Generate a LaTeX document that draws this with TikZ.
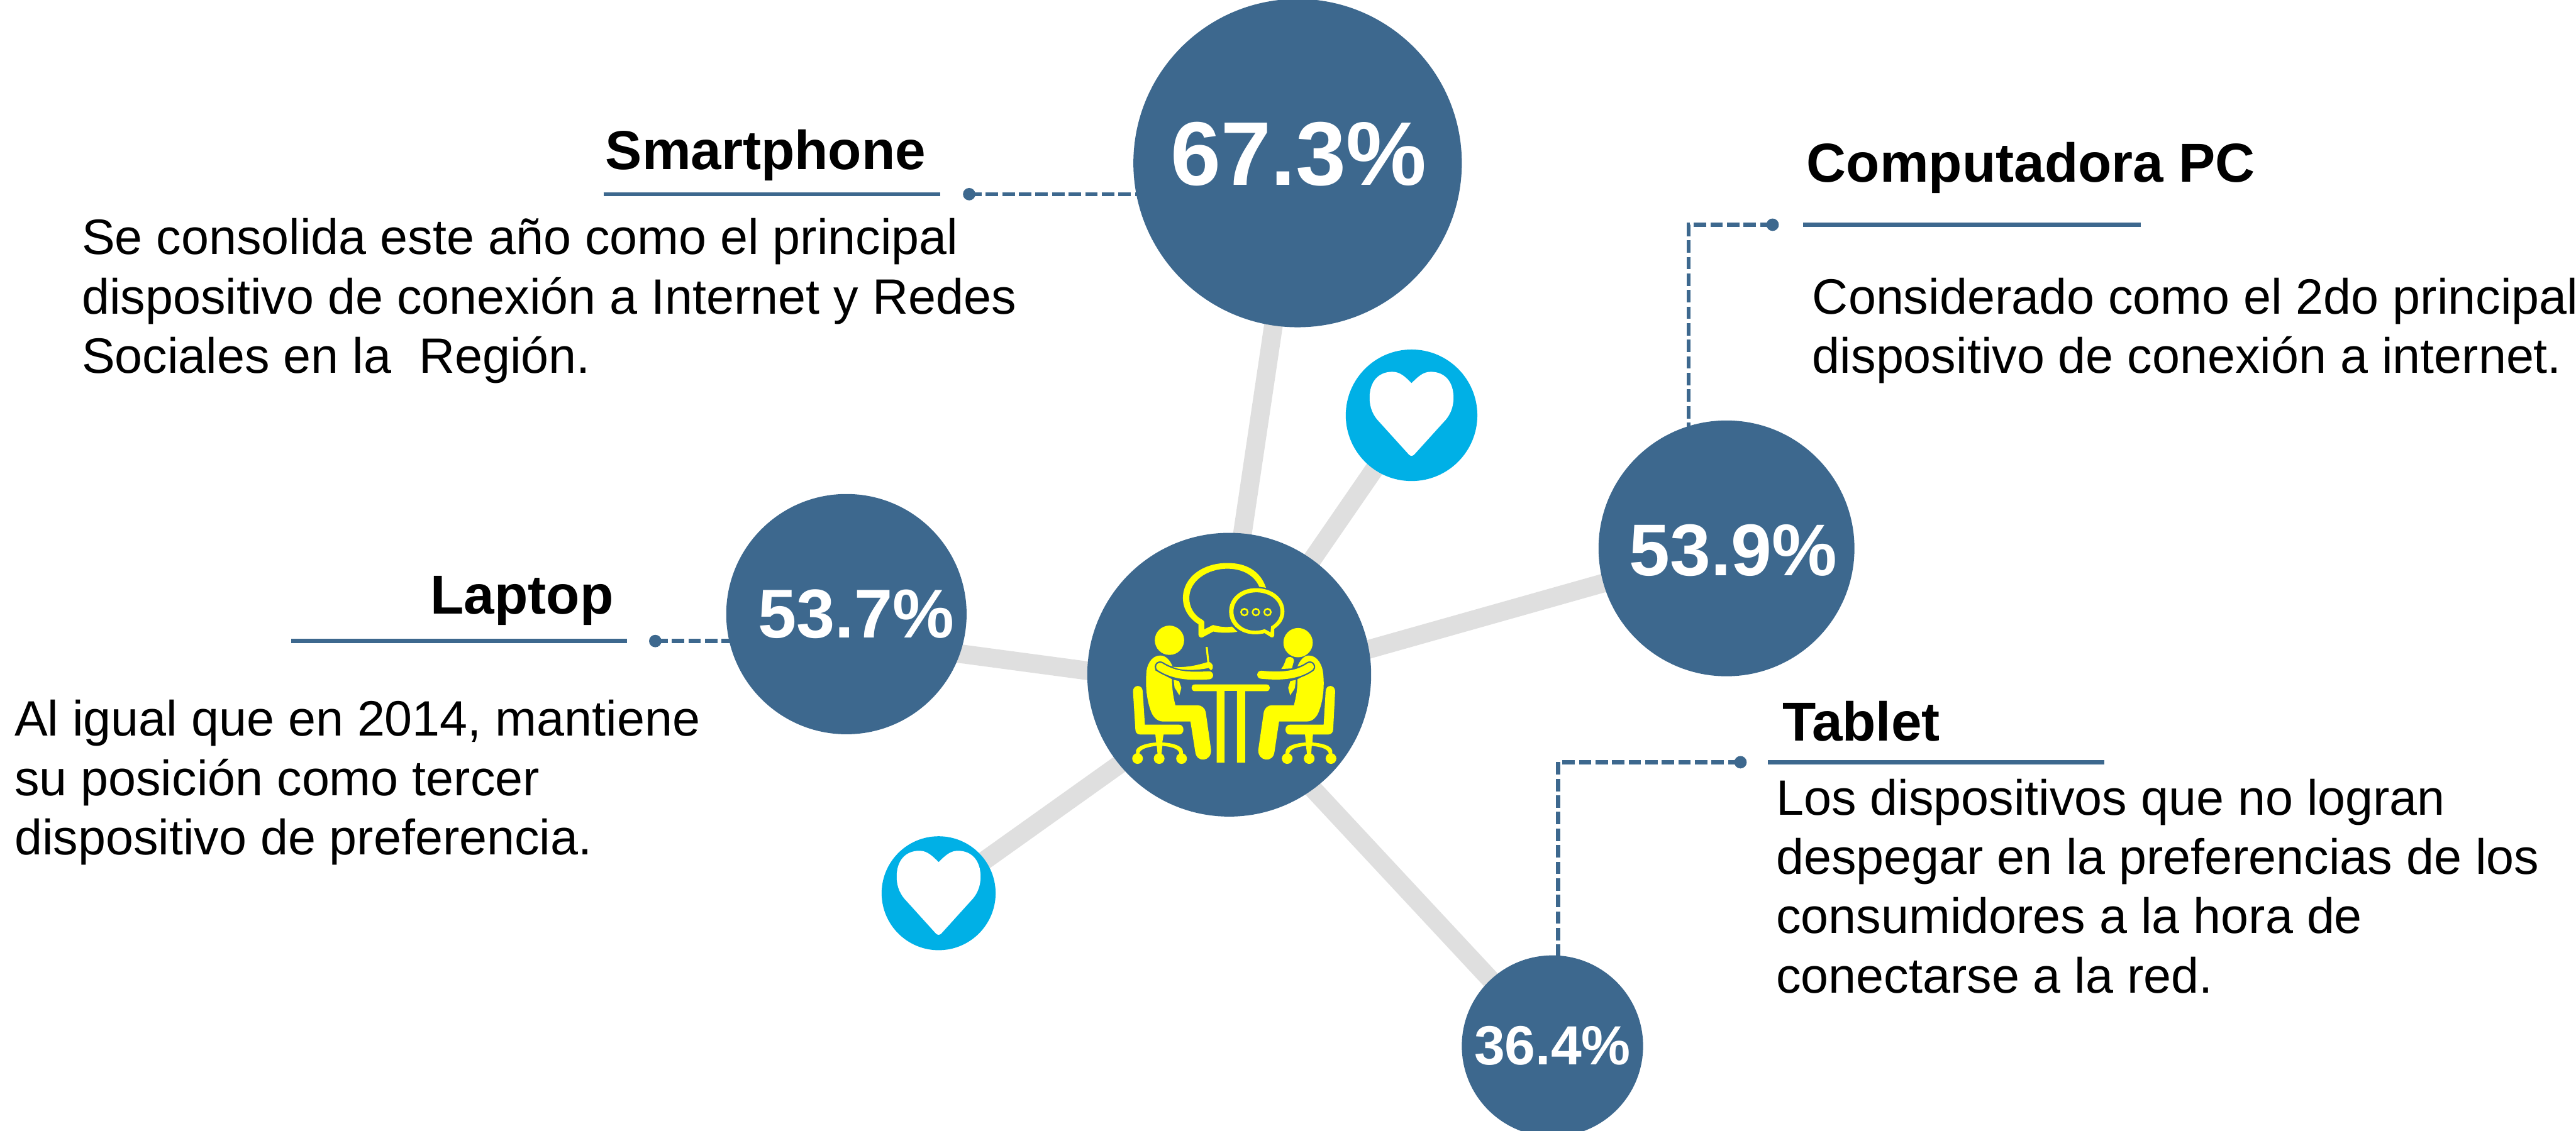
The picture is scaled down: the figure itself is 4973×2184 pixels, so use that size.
\documentclass[tikz,border=0pt]{standalone}
\usepackage{fontspec}
\setmainfont{Liberation Sans}
\definecolor{steel}{HTML}{3D688E}
\definecolor{spoke}{HTML}{DFDFDF}
\definecolor{sky}{HTML}{00B0E6}
\definecolor{ico}{HTML}{FFFF00}
\tikzset{
  x=0.2pt,y=-0.2pt,
  hub/.style={circle,fill=steel,inner sep=0,outer sep=0},
  numtext/.style={inner sep=0,text=white,font=\bfseries},
  spokeline/.style={draw=spoke,line width=7.2pt},
  leader/.style={draw=steel,line width=1.6pt,dash pattern=on 4.8pt off 1.6pt},
  headrule/.style={draw=steel,line width=1.6pt},
  dot/.style={circle,fill=steel,inner sep=0,minimum size=4.8pt},
  bodytext/.style={anchor=north west,align=left,inner sep=0,text=black,font=\fontsize{19.2}{22.9}\selectfont},
  headtext/.style={anchor=base west,inner sep=0,text=black,font=\fontsize{21.2}{25}\selectfont\bfseries},
  hearthub/.style={circle,fill=sky,inner sep=0,outer sep=0},
}
\begin{document}
\begin{tikzpicture}
\useasboundingbox (0,0) rectangle (4973,2184);
\fill[white] (0,0) rectangle (4973,2184);
% nodes
\coordinate (c0) at (2373,1303);
\coordinate (cA) at (2505,315);
\coordinate (cB) at (3333,1059);
\coordinate (cC) at (1634,1186);
\coordinate (cD) at (2997,2020);
\coordinate (cH1) at (2725,802);
\coordinate (cH2) at (1812,1725);
\coordinate (sA) at (2358,1303);
\coordinate (sB) at (2373,1330);
\coordinate (sC) at (2373,1332);
\coordinate (eC) at (1634,1233);
\coordinate (sD) at (2373,1350);
\coordinate (sH1) at (2380,1303);
\coordinate (sH2) at (2373,1325);
% spokes
\draw[spokeline] (sA)--(cA);
\draw[spokeline] (sB)--(cB);
\draw[spokeline] (sC)--(eC);
\draw[spokeline] (sD)--(cD);
\draw[spokeline] (sH1)--(cH1);
\draw[spokeline] (sH2)--(cH2);
% leaders
\coordinate (dA) at (1871,375);
\coordinate (dB) at (3422,434);
\coordinate (dC) at (1265,1238);
\coordinate (dD) at (3360,1472);
\draw[leader] (dA)--(2195,375);
\draw[leader] (dB)--(3260,434)--(3260,830);
\draw[leader] (dC)--(1410,1238);
\draw[leader] (dD)--(3008,1472)--(3008,1845);
\node[dot] (nA) at (dA) {};
\node[dot] (nB) at (dB) {};
\node[dot] (nC) at (dC) {};
\node[dot] (nD) at (dD) {};
% circles
\node[hub,minimum size=126.8pt] (A) at (cA) {};
\node[hub,minimum size=98.8pt] (B) at (cB) {};
\node[hub,minimum size=92.8pt] (C) at (cC) {};
\node[hub,minimum size=70pt] (D) at (cD) {};
\node[hub,minimum size=109.6pt] (O) at (c0) {};
\node[hearthub,minimum size=50.8pt] (H1) at (cH1) {};
\node[hearthub,minimum size=44pt] (H2) at (cH2) {};
\node[numtext,font=\fontsize{34.9}{40}\selectfont\bfseries] (vA) at (2507,298) {67.3\%};
\node[numtext,font=\fontsize{28.3}{32}\selectfont\bfseries] (vB) at (3346,1063) {53.9\%};
\node[numtext,font=\fontsize{26.7}{30}\selectfont\bfseries] (vC) at (1653,1186) {53.7\%};
\node[numtext,font=\fontsize{21.3}{25}\selectfont\bfseries] (vD) at (2997,2020) {36.4\%};
% hearts
\foreach \cc/\cy in {cH1/-2,cH2/0}{
\begin{scope}[shift={(\cc)},yshift=-\cy*0.2pt]
\fill[white] (0,-60) .. controls (-12,-72) and (-22,-82) .. (-37,-82)
  .. controls (-65,-82) and (-81,-62) .. (-81,-32)
  .. controls (-81,-10) and (-72,5) .. (-62,15)
  -- (-5,78) .. controls (-2,81) and (2,81) .. (5,78)
  -- (62,15) .. controls (72,5) and (81,-10) .. (81,-32)
  .. controls (81,-62) and (65,-82) .. (37,-82)
  .. controls (22,-82) and (12,-72) .. (0,-60) -- cycle;
\end{scope}}
% people icon
\begin{scope}[shift={(2100,1000)},x=0.07653pt,y=-0.07653pt]
\fill[ico] (412,618) circle[radius=74];
\fill[ico] (1061,630) circle[radius=74];
% left body
\fill[ico] (365,695) .. controls (320,695) and (295,745) .. (295,790)
 .. controls (290,860) and (300,930) .. (320,980)
 .. controls (330,1005) and (350,1028) .. (380,1028) -- (518,1028) -- (542,1180)
 .. controls (548,1240) and (625,1230) .. (622,1172) -- (595,980)
 .. controls (590,960) and (575,946) .. (552,946) -- (442,946)
 .. controls (430,900) and (425,860) .. (425,815) -- (340,770) -- (345,730) -- (428,750)
 .. controls (415,720) and (395,695) .. (365,695) -- cycle;
\fill[ico] (1115,695) .. controls (1160,695) and (1185,745) .. (1188,790)
 .. controls (1195,860) and (1185,930) .. (1165,980)
 .. controls (1155,1005) and (1135,1028) .. (1105,1028) -- (965,1028) -- (942,1180)
 .. controls (936,1240) and (858,1230) .. (860,1172) -- (888,980)
 .. controls (893,960) and (908,946) .. (930,946) -- (1040,946)
 .. controls (1052,900) and (1058,860) .. (1058,815) -- (1140,770) -- (1135,730) -- (1058,750)
 .. controls (1070,720) and (1090,695) .. (1115,695) -- cycle;
% arms
\draw[steel,line width=4.2pt,line cap=round] (365,752) .. controls (440,800) and (520,800) .. (612,795);
\draw[steel,line width=4.2pt,line cap=round] (1120,752) .. controls (1050,800) and (960,800) .. (875,792);
\draw[ico,line width=3.1pt,line cap=round] (365,752) .. controls (440,800) and (520,800) .. (612,795);
\draw[ico,line width=3.1pt,line cap=round] (1120,752) .. controls (1050,800) and (960,800) .. (875,792);
% upper forearm and pencil
\fill[ico] (428,752) .. controls (490,758) and (550,745) .. (605,728) .. controls (632,725) and (640,760) .. (622,770) -- (610,758) .. controls (540,772) and (470,772) .. (428,752) -- cycle;
\fill[ico] (595,652) -- (605,652) -- (613,730) -- (603,730) -- cycle;
% ties
\fill[ico] (433,818) -- (460,824) -- (472,858) -- (462,896) -- (445,868) -- (438,858) -- cycle;
\fill[ico] (1050,818) -- (1022,824) -- (1011,858) -- (1021,896) -- (1040,868) -- (1045,858) -- cycle;
\fill[ico] (976,763) .. controls (990,745) and (996,725) .. (1000,712) .. controls (1010,695) and (1040,700) .. (1040,722) -- (1030,760) -- cycle;
% chairs
\fill[ico] (228,875) .. controls (230,840) and (275,840) .. (277,875) -- (288,1044) -- (460,1044) .. controls (490,1044) and (490,1094) .. (460,1094) -- (382,1094) -- (376,1134)
 -- (378,1134) .. controls (430,1137) and (478,1150) .. (480,1180) -- (480,1192) -- (462,1192) .. controls (462,1165) and (420,1155) .. (376,1151) -- (372,1192) -- (352,1192) -- (348,1151) .. controls (310,1155) and (260,1165) .. (260,1192) -- (243,1192) -- (243,1175) .. controls (250,1150) and (300,1137) .. (345,1134) -- (341,1094) -- (265,1094) .. controls (248,1094) and (240,1082) .. (240,1068) -- cycle;
\fill[ico] (1248,875) .. controls (1246,840) and (1202,840) .. (1200,875) -- (1190,1044) -- (1020,1044) .. controls (990,1044) and (990,1094) .. (1020,1094) -- (1096,1094) -- (1100,1134)
 .. controls (1050,1137) and (1000,1150) .. (998,1180) -- (998,1192) -- (1016,1192) .. controls (1018,1165) and (1060,1155) .. (1101,1151) -- (1106,1192) -- (1127,1192) -- (1130,1151) .. controls (1170,1155) and (1215,1165) .. (1216,1192) -- (1233,1192) -- (1233,1175) .. controls (1228,1150) and (1180,1137) .. (1133,1134) -- (1136,1094) -- (1212,1094) .. controls (1228,1094) and (1238,1082) .. (1238,1068) -- cycle;
\foreach \px in {251,360,473,1006,1117,1227}{\fill[ico] (\px,1215) circle[radius=27];}
% table
\fill[ico] (540,841) -- (902,841) .. controls (924,841) and (924,875) .. (902,875) -- (794,875) -- (794,1236) -- (753,1236) -- (753,873) -- (690,873) -- (690,1236) -- (650,1236) -- (650,875) -- (540,875) .. controls (518,875) and (518,841) .. (540,841) -- cycle;
% bubbles
\fill[ico]
 (899,353) .. controls (870,265) and (795,228) .. (705,228)
 .. controls (580,228) and (480,300) .. (480,405)
 .. controls (480,465) and (515,510) .. (558,537)
 -- (558,590) .. controls (560,605) and (575,608) .. (585,600) -- (633,574)
 .. controls (670,582) and (715,582) .. (755,575)
 -- (728,549) .. controls (695,554) and (665,550) .. (632,541)
 -- (588,563) -- (588,525) .. controls (585,518) and (580,516) .. (570,510)
 .. controls (535,488) and (512,450) .. (512,405)
 .. controls (512,320) and (600,257) .. (705,257)
 .. controls (780,257) and (840,290) .. (865,348) -- cycle;
\fill[ico,even odd rule]
 (850,355) .. controls (770,355) and (713,405) .. (713,473)
 .. controls (713,540) and (770,588) .. (845,588)
 .. controls (862,588) and (878,586) .. (892,582)
 -- (925,603) .. controls (932,606) and (940,602) .. (941,594)
 -- (941,560) .. controls (972,540) and (992,510) .. (992,473)
 .. controls (992,405) and (930,355) .. (850,355) -- cycle
 (850,376) .. controls (915,376) and (972,415) .. (972,473)
 .. controls (972,505) and (955,530) .. (925,548)
 -- (922,578) -- (892,562) .. controls (878,567) and (860,570) .. (845,570)
 .. controls (785,570) and (735,530) .. (735,473)
 .. controls (735,415) and (785,376) .. (850,376) -- cycle;
\foreach \px in {790,848,907}{\draw[ico,line width=0.6pt] (\px,476) circle[radius=17];}
\end{scope}
% rules
\draw[headrule] (1165,375)--(1815,375);
\draw[headrule] (3481,434)--(4133,434);
\draw[headrule] (562,1238)--(1210,1238);
\draw[headrule] (3413,1472)--(4062,1472);
% heads
\node[headtext] (tA) at (1168,327) {Smartphone};
\node[headtext] (tB) at (3487,351) {Computadora PC};
\node[headtext] (tC) at (830,1186) {Laptop};
\node[headtext] (tD) at (3440,1431) {Tablet};
% body
\node[bodytext] (bA) at (157,421) {Se consolida este año como el principal\\dispositivo de conexión a Internet y Redes\\Sociales en la\ \ Región.};
\node[bodytext] (bB) at (3498,536) {Considerado como el 2do principal\\dispositivo de conexión a internet.};
\node[bodytext] (bC) at (27,1351) {Al igual que en 2014, mantiene\\su posición como tercer\\dispositivo de preferencia.};
\node[bodytext] (bD) at (3428,1503) {Los dispositivos que no logran\\despegar en la preferencias de los\\consumidores a la hora de\\conectarse a la red.};
\end{tikzpicture}
\end{document}
